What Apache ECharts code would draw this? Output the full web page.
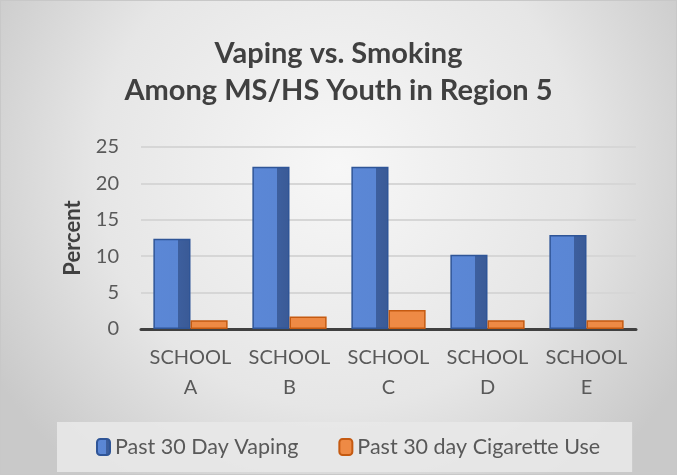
<!DOCTYPE html>
<html><head><meta charset="utf-8">
<script src="https://cdn.jsdelivr.net/npm/echarts@6/dist/echarts.min.js"></script>
<style>html,body{margin:0;padding:0;background:#fff}#c{width:677px;height:475px;box-sizing:border-box;border:1px solid #c8c8c8}</style>
</head><body><div id="c"></div>
<script>
const categories = ['SCHOOL\nA','SCHOOL\nB','SCHOOL\nC','SCHOOL\nD','SCHOOL\nE'];
const vaping = [12.4, 22.3, 22.3, 10.2, 12.9];
const cigarettes = [1.2, 1.7, 2.6, 1.2, 1.2];
const seriesNames = ['Past 30 Day Vaping', 'Past 30 day Cigarette Use'];
const titleText = 'Vaping vs. Smoking\nAmong MS/HS Youth in Region 5';
const yName = 'Percent';

const FONT = 'Lato, "Open Sans", sans-serif';
const chart = echarts.init(document.getElementById('c'));
chart.setOption({
  backgroundColor: {type:'radial', x:0.5, y:0.35, r:0.85, colorStops:[{offset:0,color:'#f7f7f7'},{offset:0.6,color:'#e6e6e6'},{offset:1,color:'#c9c9c9'}]},
  animation:false,
  title:{text:titleText, left:'center', top:29, textStyle:{fontFamily:FONT, fontSize:29, fontWeight:'bold', color:'#404040', lineHeight:37}},
  legend:{data:seriesNames, left:56, top:421, padding:[14,32,14,39], itemGap:40, itemWidth:13, itemHeight:16,
    backgroundColor:'rgba(232,232,232,0.9)', textStyle:{fontFamily:FONT, fontSize:21.5, color:'#595959'}},
  grid:{left:140, right:40, top:146, bottom:145},
  xAxis:{type:'category', data:categories,
    axisLine:{lineStyle:{color:'#404040', width:3}}, axisTick:{show:false},
    axisLabel:{interval:0, hideOverlap:false, fontFamily:FONT, fontSize:20, color:'#595959', lineHeight:30, margin:14}},
  yAxis:{type:'value', min:0, max:25, interval:5, name:yName, nameLocation:'middle', nameGap:57,
    nameTextStyle:{fontFamily:FONT, fontSize:22, fontWeight:'bold', color:'#404040'},
    axisLine:{show:false}, axisTick:{show:false},
    axisLabel:{fontFamily:FONT, fontSize:20, color:'#595959', margin:22},
    splitLine:{lineStyle:{color:'#d6d6d6', width:2}}},
  series:[
    {name:seriesNames[0], type:'bar', data:vaping, barGap:'0%', barCategoryGap:'25%',
     itemStyle:{color:{type:'linear',x:0,y:0,x2:1,y2:0,colorStops:[{offset:0,color:'#5b87d6'},{offset:0.65,color:'#5a86d4'},{offset:0.66,color:'#3d5f9e'},{offset:1,color:'#3a5a96'}]}, borderColor:'#2f5597', borderWidth:1.5}},
    {name:seriesNames[1], type:'bar', data:cigarettes,
     itemStyle:{color:'#ee8a45', borderColor:'#c55a11', borderWidth:1.5}}
  ]
});
</script></body></html>
